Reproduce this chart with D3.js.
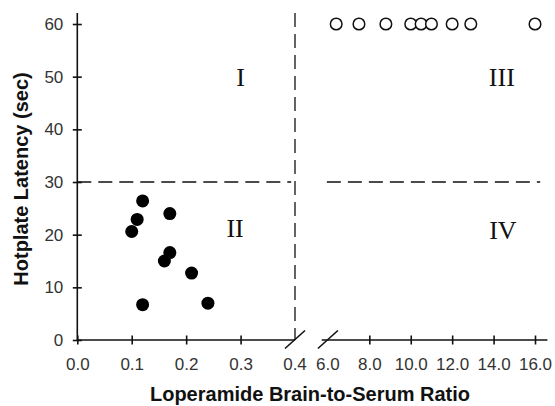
<!DOCTYPE html>
<html><head><meta charset="utf-8">
<script src="https://cdn.jsdelivr.net/npm/d3@7"></script>
<style>
html,body{margin:0;padding:0;background:#fff;}
svg{display:block;}
</style></head>
<body>
<svg id="chart" width="555" height="406"></svg>
<script>
// Data
const lowX = [0.12, 0.11, 0.10, 0.17, 0.17, 0.16, 0.21, 0.12, 0.24];
const lowY = [26.4, 22.9, 20.6, 24.0, 16.6, 15.0, 12.7, 6.7, 7.0];
const highX = [6.4, 7.5, 8.8, 10.0, 10.5, 11.0, 12.0, 12.9, 16.0];
const highY = [60, 60, 60, 60, 60, 60, 60, 60, 60];
const leftTicks = [0.0, 0.1, 0.2, 0.3, 0.4];
const rightTicks = [6.0, 8.0, 10.0, 12.0, 14.0, 16.0];
const yTicks = [0, 10, 20, 30, 40, 50, 60];
const quadLabels = ["I", "II", "III", "IV"];
const quadSide = ["L", "L", "R", "R"];
const quadX = [0.30, 0.29, 14.4, 14.45];
const quadY = [50, 21.3, 50, 21];
const threshold = 30;
const breakX = 0.4;

const svg = d3.select("#chart");
const y = d3.scaleLinear().domain([0, 60]).range([340, 24]);
const xL = d3.scaleLinear().domain([0, 0.4]).range([77.3, 295]);
const xR = d3.scaleLinear().domain([6, 16]).range([327.9, 535]);
const ink = "#111";
const labelColor = "#333";
const tickFont = g => g.attr("fill", labelColor)
  .style("font-family", "Liberation Sans, Arial, sans-serif").style("font-size", "17px");

// Y axis
const yAxis = d3.axisLeft(y).tickValues(yTicks).tickFormat(d3.format("d")).tickSize(0);
const gy = svg.append("g").attr("transform", `translate(${xL(0)},0)`).call(yAxis);
gy.select(".domain").remove();
gy.selectAll(".tick line").attr("x1", -4.5).attr("x2", 4.5).attr("stroke", ink).attr("stroke-width", 1.6);
gy.selectAll(".tick text").attr("x", -14).call(tickFont);
svg.append("line").attr("x1", xL(0)).attr("x2", xL(0)).attr("y1", y(0)).attr("y2", y(62.1))
  .attr("stroke", ink).attr("stroke-width", 1.6);

// X axis left segment
const axL = d3.axisBottom(xL).tickValues(leftTicks.slice(0, 4)).tickFormat(d3.format(".1f")).tickSize(0);
const gxl = svg.append("g").attr("transform", `translate(0,${y(0)})`).call(axL);
gxl.select(".domain").remove();
gxl.selectAll(".tick line").attr("y1", -4.5).attr("y2", 4.5).attr("stroke", ink).attr("stroke-width", 1.6);
svg.append("line").attr("x1", xL(0)).attr("x2", xL(0.4)).attr("y1", y(0)).attr("y2", y(0))
  .attr("stroke", ink).attr("stroke-width", 1.6);

// X axis right segment
const axR = d3.axisBottom(xR).tickValues(rightTicks.slice(1)).tickFormat(d3.format(".1f")).tickSize(0);
const gxr = svg.append("g").attr("transform", `translate(0,${y(0)})`).call(axR);
gxr.select(".domain").remove();
gxr.selectAll(".tick line").attr("y1", -4.5).attr("y2", 4.5).attr("stroke", ink).attr("stroke-width", 1.6);
svg.append("line").attr("x1", xR(5.7)).attr("x2", xR(16.6)).attr("y1", y(0)).attr("y2", y(0))
  .attr("stroke", ink).attr("stroke-width", 1.6);

// X tick labels
gxl.selectAll(".tick text").attr("y", 30).attr("dy", 0).call(tickFont);
gxr.selectAll(".tick text").attr("y", 30).attr("dy", 0).call(tickFont);
const yLab = y(0) + 30;
svg.append("text").attr("x", xL(0.4)).attr("y", yLab).attr("text-anchor", "middle")
  .text(d3.format(".1f")(leftTicks[4])).call(tickFont);
svg.append("text").attr("x", xR(6)).attr("y", yLab).attr("text-anchor", "middle")
  .text(d3.format(".1f")(rightTicks[0])).call(tickFont);

// Break slashes
[xL(breakX), xR(6)].forEach(cx => {
  svg.append("line").attr("x1", cx - 10).attr("y1", y(0) + 8.5).attr("x2", cx + 10).attr("y2", y(0) - 9.5)
    .attr("stroke", ink).attr("stroke-width", 1.6);
});

// Dashed threshold lines
const dash = "14,7";
svg.append("line").attr("x1", xL(0)).attr("x2", xL(0.393)).attr("y1", y(threshold)).attr("y2", y(threshold))
  .attr("stroke", ink).attr("stroke-width", 1.3).attr("stroke-dasharray", dash);
svg.append("line").attr("x1", xR(5.95)).attr("x2", xR(16.25)).attr("y1", y(threshold)).attr("y2", y(threshold))
  .attr("stroke", ink).attr("stroke-width", 1.3).attr("stroke-dasharray", dash);
svg.append("line").attr("x1", xL(breakX)).attr("x2", xL(breakX)).attr("y1", y(62.1)).attr("y2", y(0))
  .attr("stroke", ink).attr("stroke-width", 1.3).attr("stroke-dasharray", dash);

// Points
svg.append("g").selectAll("circle").data(lowX.map((v, i) => [v, lowY[i]])).join("circle")
  .attr("cx", d => xL(d[0])).attr("cy", d => y(d[1])).attr("r", 6.5).attr("fill", "#000");
svg.append("g").selectAll("circle").data(highX.map((v, i) => [v, highY[i]])).join("circle")
  .attr("cx", d => xR(d[0])).attr("cy", d => y(d[1])).attr("r", 5.8)
  .attr("fill", "#fff").attr("stroke", ink).attr("stroke-width", 1.5);

// Quadrant labels
svg.append("g").selectAll("text").data(quadLabels).join("text")
  .attr("x", (d, i) => quadSide[i] === "L" ? xL(quadX[i]) : xR(quadX[i]))
  .attr("y", (d, i) => y(quadY[i]))
  .attr("dy", "0.35em").attr("text-anchor", "middle")
  .style("font-family", "Liberation Serif, Times New Roman, serif").style("font-size", "26px")
  .attr("fill", "#111").text(d => d);

// Axis titles
svg.append("text").attr("x", 310).attr("y", 401).attr("text-anchor", "middle")
  .style("font-family", "Liberation Sans, Arial, sans-serif").style("font-size", "20px").style("font-weight", "bold")
  .attr("fill", "#111").text("Loperamide Brain-to-Serum Ratio");
svg.append("text").attr("transform", "translate(21,179) rotate(-90)").attr("dy", "0.35em").attr("text-anchor", "middle")
  .style("font-family", "Liberation Sans, Arial, sans-serif").style("font-size", "20px").style("font-weight", "bold")
  .attr("fill", "#111").text("Hotplate Latency (sec)");
</script>
</body></html>
